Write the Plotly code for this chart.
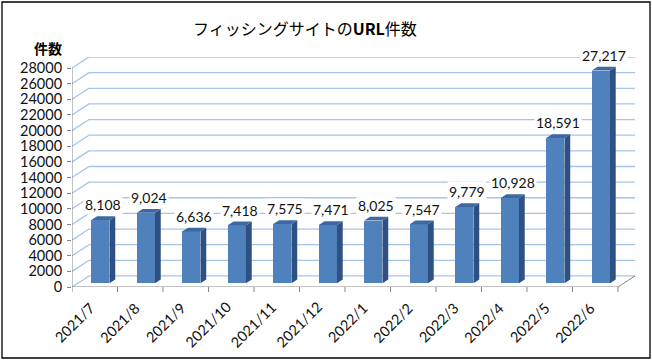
import plotly.graph_objects as go

categories = ["2021/7", "2021/8", "2021/9", "2021/10", "2021/11", "2021/12",
              "2022/1", "2022/2", "2022/3", "2022/4", "2022/5", "2022/6"]
values = [8108, 9024, 6636, 7418, 7575, 7471, 8025, 7547, 9779, 10928, 18591, 27217]
y_ticks = list(range(0, 28001, 2000))

W, H = 652, 361
L, R, T, B = 72, 17, 57, 74
pw, ph = W - L - R, H - T - B

n = len(categories)
DX = 0.374          # depth offset in category units
DY = 1412           # depth offset in value units
t1, t2 = 0.33, 0.67 # bar front/back depth fractions
hw = 0.2            # half bar width

front_col = "#4f81bd"
side_col = "#2f5082"
top_col = "#3e68a3"
grid_col = "#a7c3e6"
axis_col = "#868686"

fig = go.Figure()
shapes = []

xl = -0.5
xr = n - 0.5
x_range = [xl, xr + DX]

def xpaper(x):
    return (x - x_range[0]) / (x_range[1] - x_range[0])

def px(x):
    return (x - L) / pw

def py(y):
    return (H - B - y) / ph

# back wall gridlines and left wall diagonals
for v in y_ticks:
    shapes.append(dict(type="line", xref="x", yref="y", x0=xl + DX, x1=xr + DX,
                       y0=v + DY, y1=v + DY, line=dict(color=grid_col, width=1.3), layer="below"))
    shapes.append(dict(type="line", xref="x", yref="y", x0=xl, x1=xl + DX,
                       y0=v, y1=v + DY, line=dict(color=grid_col, width=1.3), layer="below"))
# floor right edge
shapes.append(dict(type="line", xref="x", yref="y", x0=xr, x1=xr + DX, y0=0, y1=DY,
                   line=dict(color=axis_col, width=1), layer="below"))
# axes
shapes.append(dict(type="line", xref="x", yref="y", x0=xl, x1=xr, y0=0, y1=0,
                   line=dict(color=axis_col, width=1)))
shapes.append(dict(type="line", xref="x", yref="y", x0=xl, x1=xl, y0=0, y1=y_ticks[-1],
                   line=dict(color=axis_col, width=1)))
# x tick marks
for i in range(n + 1):
    shapes.append(dict(type="line", xref="x", yref="paper", x0=xl + i, x1=xl + i,
                       y0=py(287), y1=py(292), line=dict(color=axis_col, width=1)))

# bars: side and top faces
for i, v in enumerate(values):
    xf0 = i - hw + t1 * DX
    xf1 = i + hw + t1 * DX
    yb = t1 * DY
    ddx = (t2 - t1) * DX
    ddy = (t2 - t1) * DY
    side = f"M {xf1},{yb} L {xf1 + ddx},{yb + ddy} L {xf1 + ddx},{v + yb + ddy} L {xf1},{v + yb} Z"
    top = f"M {xf0},{v + yb} L {xf1},{v + yb} L {xf1 + ddx},{v + yb + ddy} L {xf0 + ddx},{v + yb + ddy} Z"
    shapes.append(dict(type="path", xref="x", yref="y", path=side, fillcolor=side_col,
                       line=dict(width=0), layer="above"))
    shapes.append(dict(type="path", xref="x", yref="y", path=top, fillcolor=top_col,
                       line=dict(width=0), layer="above"))

fig.add_trace(go.Bar(
    x=[i + t1 * DX for i in range(n)], y=values, base=[t1 * DY] * n, width=2 * hw,
    marker=dict(color=front_col, line=dict(width=0)), hoverinfo="skip"))

annotations = []
for i, v in enumerate(values):
    annotations.append(dict(x=i + 0.5 * DX, y=v + t2 * DY, xref="x", yref="y",
                            text=f"{v:,}", showarrow=False, yanchor="bottom", yshift=1,
                            bgcolor="white", borderpad=1,
                            font=dict(family="Lato, Noto Sans", size=14, color="#111111")))
# x category labels
for i, c in enumerate(categories):
    annotations.append(dict(x=xpaper(i + 0.13), y=py(296), xref="paper", yref="paper", text=c,
                            showarrow=False, textangle=-45, xanchor="right", yanchor="top",
                            font=dict(family="Lato, Noto Sans", size=14.5, color="#111111")))

annotations.append(dict(x=px(305), y=py(28), xref="paper", yref="paper",
                        text="フィッシングサイトの<b>URL</b>件数", showarrow=False,
                        xanchor="center", yanchor="middle",
                        font=dict(family="Noto Sans CJK JP", size=16, color="black")))
annotations.append(dict(x=px(48), y=py(48), xref="paper", yref="paper",
                        text="<b>件数</b>", showarrow=False, xanchor="center", yanchor="middle",
                        font=dict(family="Noto Sans CJK JP", size=14, color="black")))

shapes.append(dict(type="rect", xref="paper", yref="paper", x0=px(2), x1=px(650),
                   y0=py(2), y1=py(358), line=dict(color="black", width=1.3), layer="below"))

fig.update_layout(
    width=W, height=H, margin=dict(l=L, r=R, t=T, b=B),
    paper_bgcolor="white", plot_bgcolor="white", showlegend=False,
    xaxis=dict(range=x_range, visible=False, fixedrange=True),
    yaxis=dict(range=[0, y_ticks[-1] + DY], fixedrange=True, showgrid=False, zeroline=False,
               showline=False, tickmode="array", tickvals=y_ticks,
               ticktext=[str(v) for v in y_ticks], ticks="outside", ticklen=4,
               tickcolor=axis_col, tickwidth=1, ticklabelstandoff=2,
               tickfont=dict(family="Lato, Noto Sans", size=14.5, color="#111111")),
    shapes=shapes, annotations=annotations, bargap=0,
)
fig.write_html("out.html", config={"displayModeBar": False},
               post_script="document.body.style.margin='0';document.body.style.overflow='hidden';")
